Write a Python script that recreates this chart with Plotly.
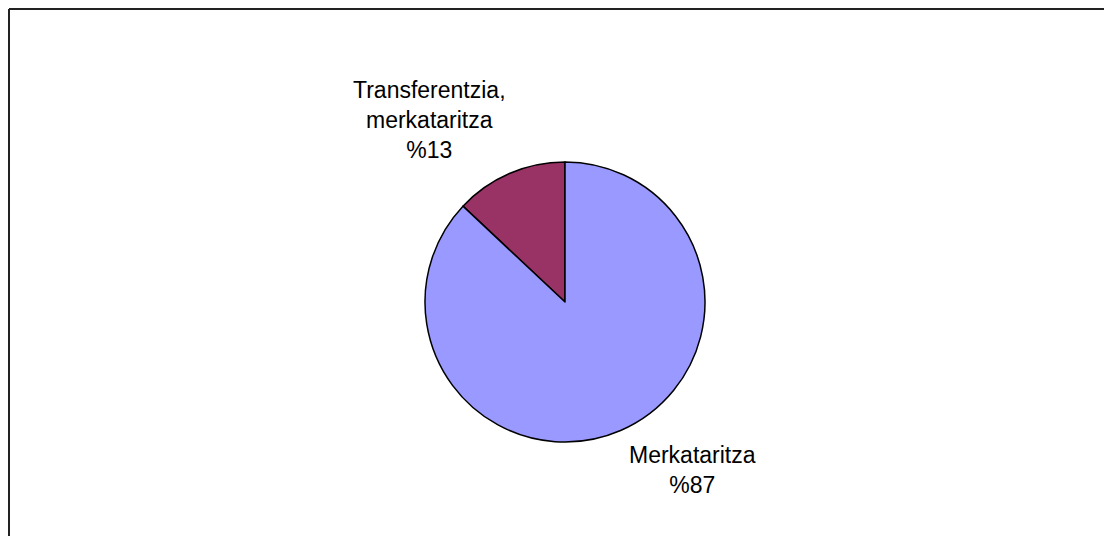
import plotly.graph_objects as go

labels = ["Transferentzia,<br>merkataritza", "Merkataritza"]
values = [13, 87]
colors = ["#993366", "#9999FF"]

W, H = 1112, 536
OFF = 8  # page body margin offset
label_pos = [(429 - OFF, 120 - OFF), (692 - OFF, 470 - OFF)]
cx, cy, r = 565 - OFF, 302 - OFF, 140

total = sum(values)
start_rot = -360 * values[0] / total  # first slice ends at 12 o'clock

fig = go.Figure(go.Pie(
    labels=labels, values=values, sort=False, direction="clockwise",
    rotation=start_rot, marker=dict(colors=colors, line=dict(color="black", width=1.5)),
    textinfo="none", hoverinfo="label+percent", showlegend=False,
    domain=dict(x=[(cx - r) / W, (cx + r) / W], y=[(H - cy - r) / H, (H - cy + r) / H]),
))

for lab, v, (px, py) in zip(labels, values, label_pos):
    fig.add_annotation(
        x=px / W, y=(H - py) / H, xref="paper", yref="paper",
        text=f"{lab}<br>%{round(100 * v / total)}", showarrow=False,
        font=dict(family="Liberation Sans, Arial", size=23, color="black"),
        align="center", xanchor="center", yanchor="middle",
    )

top_y = (H - 1) / H
left_x = 1 / W
border = dict(color="#222222", width=2)
fig.add_shape(type="line", xref="paper", yref="paper",
              x0=left_x, y0=top_y, x1=1.5, y1=top_y, line=border)
fig.add_shape(type="line", xref="paper", yref="paper",
              x0=left_x, y0=-0.5, x1=left_x, y1=top_y, line=border)

fig.update_layout(width=W, height=H, margin=dict(l=0, r=0, t=0, b=0),
                  paper_bgcolor="white", plot_bgcolor="white")
fig.write_html("out.html")
